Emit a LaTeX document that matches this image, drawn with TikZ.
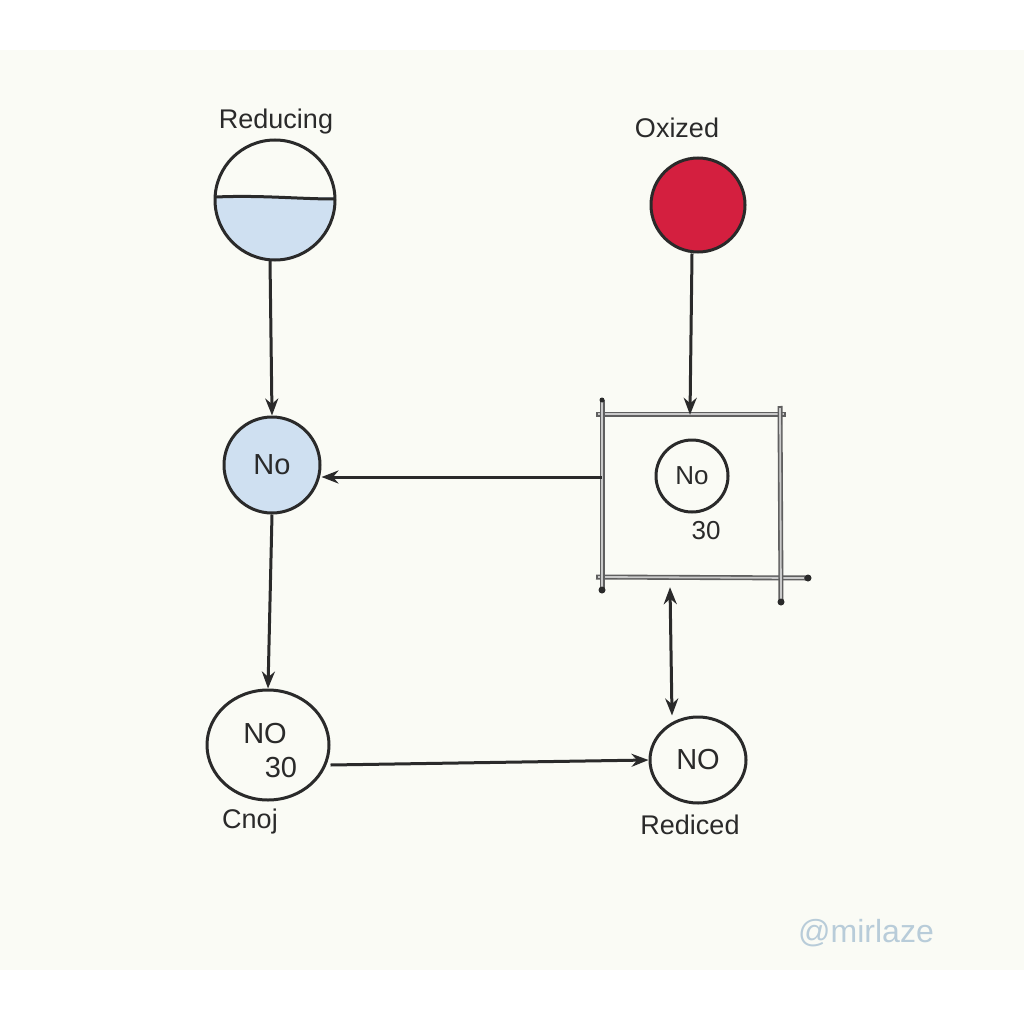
\documentclass[tikz,border=0pt]{standalone}
\usepackage{fontspec}
\setmainfont{Liberation Sans}
\usetikzlibrary{arrows.meta,shapes.geometric}
\definecolor{paper}{HTML}{FAFBF5}
\definecolor{ink}{HTML}{2A2A2A}
\definecolor{lblue}{HTML}{CFE0F1}
\definecolor{rred}{HTML}{D41F3F}
\definecolor{wm}{HTML}{B8CCD9}
\tikzset{
  lbl/.style={font=\fontsize{27}{30}\selectfont, text=ink},
  big/.style={font=\fontsize{29}{32}\selectfont, text=ink},
  circ/.style={circle, draw=ink, line width=3pt, text=ink, inner sep=0pt},
  conn/.style={draw=ink, line width=3pt, -{Stealth[length=17pt,width=13pt]}},
  boxline/.style={draw=ink!75, line width=5pt},
  boxinner/.style={draw=white!75!ink, line width=1.8pt},
  dotend/.style={circle, fill=ink, inner sep=0pt, minimum size=7pt},
}
\begin{document}
\begin{tikzpicture}[x=1pt,y=-1pt]
\useasboundingbox (0,0) rectangle (1024,1024);
\fill[white] (0,0) rectangle (1024,1024);
\fill[paper] (0,50) rectangle (1024,970);

% Reducing
\node[lbl] (tRed) at (276,122) {Reducing};
\node[circle, minimum size=120pt, inner sep=0pt] (red) at (275,200) {};
\begin{scope}
  \clip (275,200) circle (60);
  \fill[lblue] (200,197) rectangle (350,270);
\end{scope}
\draw[ink, line width=3pt] (275,200) circle (60);
\draw[ink, line width=3pt] (216,197) .. controls (260,195) and (300,199) .. (334,199);

% Oxized
\node[lbl] (tOx) at (677,128) {Oxized};
\node[circle, fill=rred, draw=ink, line width=3pt, minimum size=94pt, inner sep=0pt] (ox) at (698,205) {};

% No blue
\node[circ, big, fill=lblue, minimum size=96pt] (noA) at (272,465) {No};

% NO 30
\node[ellipse, draw=ink, line width=3pt, minimum width=122pt, minimum height=110pt, inner sep=0pt] (no30) at (268,745) {};
\node[big] (no30a) at (265,734) {NO};
\node[big] (no30b) at (281,768) {30};
\node[lbl] (tCnoj) at (250,822) {Cnoj};

% NO reduced
\node[ellipse, draw=ink, line width=3pt, minimum width=96pt, minimum height=86pt, inner sep=0pt, big] (noR) at (698,760) {NO};
\node[lbl] (tRedi) at (690,825) {Rediced};

% Box
\node[rectangle, minimum width=178pt, minimum height=162pt, inner sep=0pt] (box) at (691,496) {};
\draw[boxline] (596,414) -- (786,414);
\draw[boxinner] (598,414) -- (784,414);
\draw[boxline] (596,577) -- (806,578);
\draw[boxinner] (598,577) -- (804,578);
\draw[boxline] (602,400) -- (602,590);
\draw[boxinner] (602,402) -- (602,588);
\draw[boxline] (780,406) -- (781,602);
\draw[boxinner] (780,408) -- (781,600);
\node[dotend] (d1) at (808,578) {};
\node[dotend] (d2) at (602,590) {};
\node[dotend] (d3) at (781,602) {};
\node[dotend, minimum size=5pt] (d4) at (602,400) {};
\node[circ, font=\fontsize{26}{30}\selectfont, minimum size=72pt] (noIn) at (692,476) {No};
\node[font=\fontsize{26}{30}\selectfont, text=ink] (t30) at (706,531) {30};

% connectors
\draw[conn] ([xshift=-5pt]red.south) -- (noA.north);
\draw[conn] ([xshift=-6pt]ox.south) -- ([xshift=-1pt]box.north);
\draw[conn] (noA.south) -- (no30.north);
\draw[conn] ([yshift=19pt]box.west) -- ([yshift=-12pt]noA.east);
\draw[conn] ([yshift=-20pt]no30.east) -- (noR.west);
\draw[draw=ink, line width=3pt, {Stealth[length=17pt,width=13pt]}-{Stealth[length=17pt,width=13pt]}] ([xshift=-21pt,yshift=-10pt]box.south) -- ([xshift=-26pt]noR.north);

% watermark
\node[font=\fontsize{32}{36}\selectfont, text=wm] (wmk) at (866,933) {@mirlaze};
\end{tikzpicture}
\end{document}
